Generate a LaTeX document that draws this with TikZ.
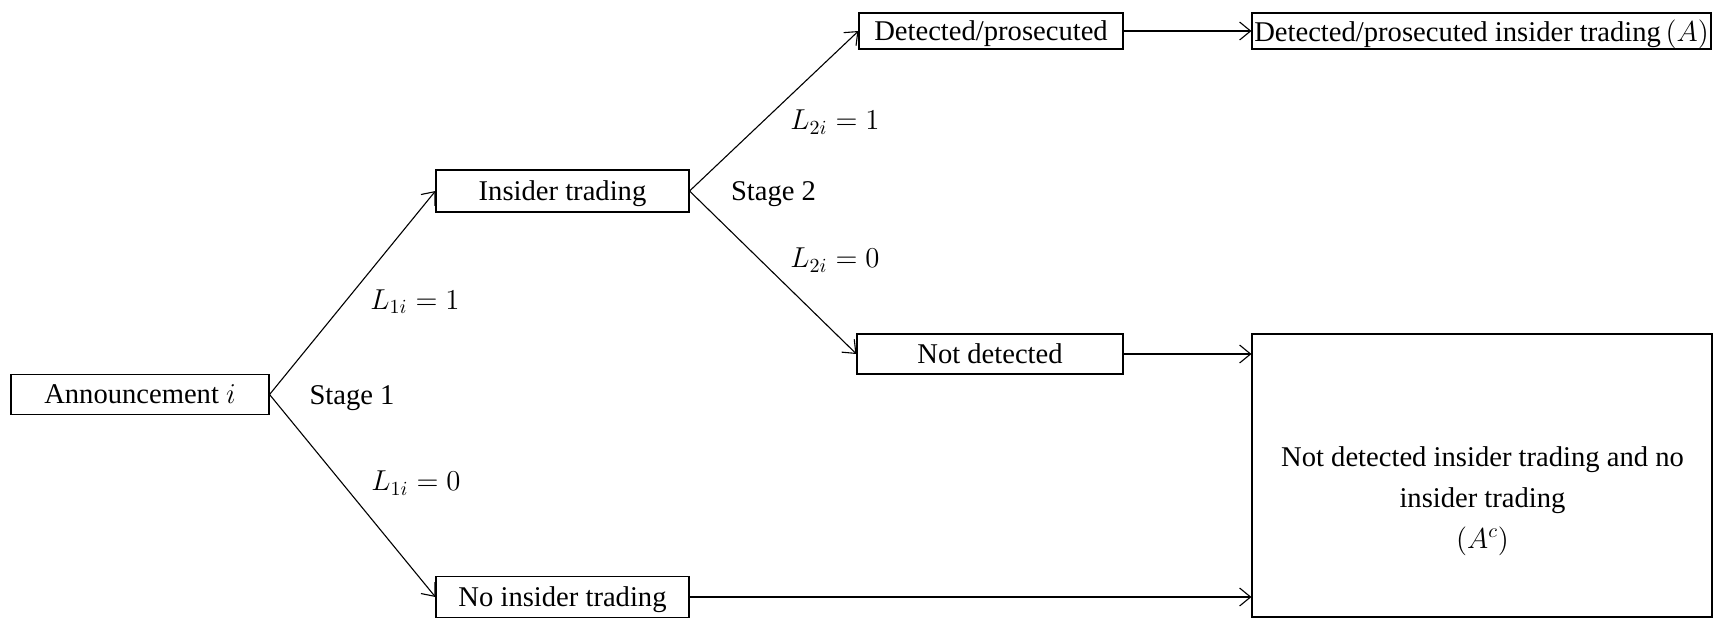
\documentclass[tikz,border=0pt]{standalone}
\usepackage{fontspec}
\setmainfont{Liberation Serif}
\usetikzlibrary{arrows.meta,calc}
\begin{document}
\begin{tikzpicture}[x=0.5pt,y=-0.5pt,
  box/.style={draw, line width=0.55pt, inner sep=0pt, text depth=0pt, font=\fontsize{14.3}{17}\selectfont},
  conn/.style={line width=0.55pt, -{Straight Barb[length=5.5pt,width=9pt,line width=0.55pt]}},
  lbl/.style={font=\fontsize{14.3}{17}\selectfont, inner sep=0pt}]
\useasboundingbox (0,0) rectangle (1713,618);
% boxes
\node[box, minimum width=129pt, minimum height=19.7pt] (ann) at (140,394.5) {Announcement $i$};
\node[box, minimum width=126.5pt, minimum height=21pt] (ins) at (562.5,191) {Insider trading};
\node[box, minimum width=126.5pt, minimum height=20.5pt] (noins) at (562.5,597) {No insider trading};
\node[box, minimum width=132pt, minimum height=18pt] (det) at (991,31) {Detected/prosecuted};
\node[box, minimum width=133pt, minimum height=20pt] (notdet) at (990,354) {Not detected};
\node[box, minimum width=229.5pt, minimum height=18pt] (detA) at (1481.5,31) {Detected/prosecuted insider trading\,$(A)$};
\node[draw, line width=0.55pt, inner sep=0pt, minimum width=230pt, minimum height=141.5pt] (big) at (1482,475.5) {};
\node[lbl, align=center] (bigtxt) at (1482.5,501) {Not detected insider trading and no\\[3.5pt] insider trading\\[3.5pt] $(A^{c})$};
% labels
\node[lbl] (st1) at (352,398) {Stage 1};
\node[lbl] (st2) at (773.5,194.5) {Stage 2};
\node[lbl] (l11) at (415,301.5) {$L_{1i}=1$};
\node[lbl] (l10) at (416,483) {$L_{1i}=0$};
\node[lbl] (l21) at (835,122) {$L_{2i}=1$};
\node[lbl] (l20) at (835,260) {$L_{2i}=0$};
% connectors
\draw[conn] (ann.east) -- (ins.west);
\draw[conn] (ann.east) -- (noins.west);
\draw[conn] (ins.east) -- (det.west);
\draw[conn] (ins.east) -- (notdet.west);
\draw[conn] (det.east) -- (detA.west);
\draw[conn] (notdet.east) -- (notdet.east -| big.west);
\draw[conn] (noins.east) -- (noins.east -| big.west);
\end{tikzpicture}
\end{document}
